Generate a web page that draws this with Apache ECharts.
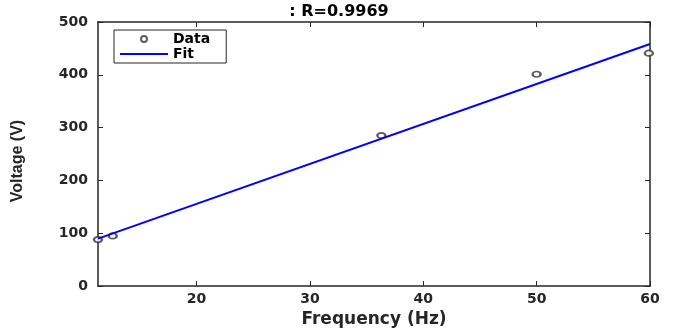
<!DOCTYPE html>
<html>
<head>
<meta charset="utf-8">
<script src="https://cdn.jsdelivr.net/npm/echarts@6/dist/echarts.min.js"></script>
<style>
  html, body { margin: 0; padding: 0; background: #fff; }
  #chart { width: 678px; height: 333px; }
</style>
</head>
<body>
<div id="chart"></div>
<script>
// measured data (frequency in Hz, voltage in V)
const freq = [11.3, 12.6, 36.3, 50, 59.9];
const volt = [88, 95, 285, 401, 441];
// fitted line end points
const fitFreq = [11.3, 60];
const fitVolt = [89.9, 458.4];
const xTicks = [20, 30, 40, 50, 60];
const yTicks = [0, 100, 200, 300, 400, 500];

const axisColor = '#262626';
const boldFont = 'DejaVu Sans';

const chart = echarts.init(document.getElementById('chart'));

const baseAxis = {
  axisLine: { show: true, onZero: false, lineStyle: { color: axisColor, width: 1.5 } },
  axisTick: { inside: true, length: 5, lineStyle: { color: axisColor, width: 1 } },
  splitLine: { show: false }
};

chart.setOption({
  animation: false,
  title: {
    text: ': R=0.9969',
    left: 'center',
    top: 0,
    padding: [4, 0, 0, 70],
    textStyle: { fontFamily: boldFont, fontWeight: 'bold', fontSize: 16, color: '#000' }
  },
  legend: {
    orient: 'vertical',
    left: 114,
    top: 30,
    padding: [2, 16, 2, 5],
    itemWidth: 48,
    itemHeight: 6,
    itemGap: 1,
    borderColor: axisColor,
    borderWidth: 1,
    backgroundColor: '#fff',
    textStyle: { fontFamily: boldFont, fontWeight: 'bold', fontSize: 14, lineHeight: 14, color: '#000' },
    data: ['Data', { name: 'Fit', itemStyle: { opacity: 0 } }]
  },
  grid: { left: 98, right: 28, top: 22, bottom: 43 },
  xAxis: [
    Object.assign({}, baseAxis, {
      type: 'value',
      min: 11.3,
      max: 60,
      name: 'Frequency (Hz)',
      nameLocation: 'middle',
      nameGap: 22,
      nameTextStyle: { fontFamily: boldFont, fontWeight: 'bold', fontSize: 17, color: axisColor },
      axisTick: Object.assign({}, baseAxis.axisTick, { customValues: xTicks }),
      axisLabel: {
        customValues: xTicks,
        margin: 6,
        fontFamily: boldFont, fontWeight: 'bold', fontSize: 14, color: axisColor
      }
    }),
    Object.assign({}, baseAxis, {
      type: 'value',
      position: 'top',
      min: 11.3,
      max: 60,
      axisTick: Object.assign({}, baseAxis.axisTick, { customValues: xTicks }),
      axisLabel: { show: false }
    })
  ],
  yAxis: [
    Object.assign({}, baseAxis, {
      type: 'value',
      min: 0,
      max: 500,
      interval: 100,
      name: 'Voltage (V)',
      nameLocation: 'middle',
      nameRotate: 90,
      nameGap: 72,
      nameTextStyle: {
        fontFamily: 'Liberation Sans', fontWeight: 'bold', fontSize: 16, color: axisColor,
        padding: [0, 14, 0, 0]
      },
      axisLabel: {
        margin: 10,
        formatter: v => (yTicks.indexOf(v) >= 0 ? String(v) : ''),
        fontFamily: boldFont, fontWeight: 'bold', fontSize: 14, color: axisColor
      }
    }),
    Object.assign({}, baseAxis, {
      type: 'value',
      position: 'right',
      min: 0,
      max: 500,
      interval: 100,
      axisLabel: { show: false }
    })
  ],
  series: [
    {
      name: 'Data',
      type: 'scatter',
      clip: false,
      symbol: 'emptyCircle',
      symbolSize: [8, 5.5],
      itemStyle: { color: '#333', borderColor: '#333', borderWidth: 1 },
      data: freq.map((f, i) => [f, volt[i]]),
      z: 2
    },
    {
      name: 'Fit',
      type: 'line',
      showSymbol: false,
      symbol: 'none',
      color: '#0000ff',
      lineStyle: { color: '#0000ff', width: 2 },
      data: fitFreq.map((f, i) => [f, fitVolt[i]]),
      z: 3
    }
  ]
});
</script>
</body>
</html>
